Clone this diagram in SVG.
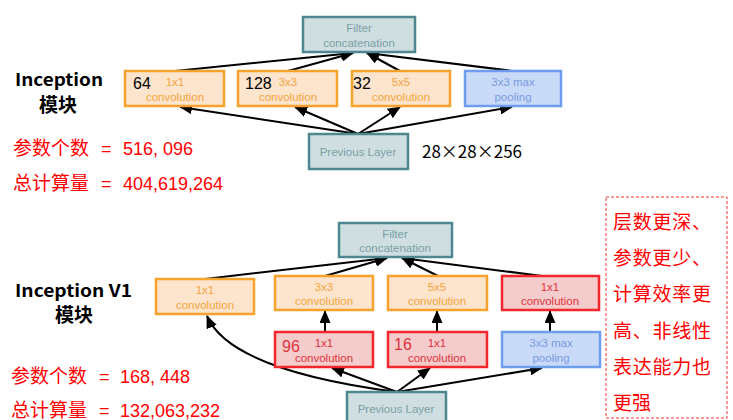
<svg xmlns="http://www.w3.org/2000/svg" width="733" height="420" viewBox="0 0 733 420">
<defs>
<marker id="ah" markerUnits="userSpaceOnUse" markerWidth="13" markerHeight="11" refX="12" refY="5.5" orient="auto">
<path d="M0,0 L13,5.5 L0,11 z" fill="#000"/>
</marker>
<style>
.conn line, .conn path { stroke:#000; stroke-width:2; fill:none; marker-end:url(#ah); }
.gray rect { fill:#cfdfe1; stroke:#4e8790; stroke-width:2.5; }
.gray text { fill:#7b9ea5; }
.org rect { fill:#fde4cc; stroke:#f7a22c; stroke-width:2.5; }
.org text { fill:#f5a540; }
.blue rect { fill:#c9daf8; stroke:#6d9eeb; stroke-width:2.5; }
.blue text { fill:#7a9be2; }
.red rect { fill:#f4cccc; stroke:#f2262b; stroke-width:2.5; }
.red text { fill:#e0323a; }
.lbl { font-family:"Liberation Sans", Arial, sans-serif; font-size:11.5px; text-anchor:middle; }
.num { font-family:"Liberation Sans", Arial, sans-serif; font-size:16px; }
.cjk { font-family:"Noto Sans CJK SC", sans-serif; }
.rt { font-family:"Noto Sans CJK SC", sans-serif; font-size:19px; fill:#ff0000; }
.rn { font-family:"Liberation Sans", Arial, sans-serif; font-size:18px; fill:#ff0000; }
.bt { font-family:"Noto Sans CJK SC", sans-serif; font-weight:bold; fill:#000; }
</style>
</defs>

<!-- left labels -->
<text class="bt" x="15" y="86" font-size="17" textLength="88" lengthAdjust="spacingAndGlyphs">Inception</text>
<text class="bt" x="58" y="112" font-size="19" text-anchor="middle">模块</text>
<text class="rt" x="13" y="155">参数个数</text>
<text class="rn" x="101" y="155">=</text>
<text class="rn" x="123" y="155">516, 096</text>
<text class="rt" x="13" y="190">总计算量</text>
<text class="rn" x="101" y="190">=</text>
<text class="rn" x="123" y="190">404,619,264</text>

<text class="bt" x="15" y="297" font-size="17" textLength="117" lengthAdjust="spacingAndGlyphs">Inception V1</text>
<text class="bt" x="74" y="322" font-size="19" text-anchor="middle">模块</text>
<text class="rt" x="11" y="383">参数个数</text>
<text class="rn" x="99" y="383">=</text>
<text class="rn" x="120" y="383">168, 448</text>
<text class="rt" x="11" y="417">总计算量</text>
<text class="rn" x="99" y="417">=</text>
<text class="rn" x="120" y="417">132,063,232</text>

<text class="cjk" x="422" y="158" font-size="17" fill="#000">28×28×256</text>

<!-- connectors -->
<g class="conn" id="connectors">
<line x1="175" y1="71" x2="353" y2="53"/>
<line x1="288" y1="71" x2="353" y2="53"/>
<line x1="400" y1="71" x2="367" y2="53"/>
<line x1="513" y1="71" x2="367" y2="53"/>
<line x1="358" y1="134" x2="180" y2="107"/>
<line x1="358" y1="134" x2="295" y2="107"/>
<line x1="358" y1="134" x2="400" y2="107"/>
<line x1="358" y1="134" x2="512" y2="107"/>

<line x1="205" y1="279" x2="387" y2="258"/>
<line x1="325" y1="276" x2="387" y2="258"/>
<line x1="438" y1="276" x2="402" y2="258"/>
<line x1="542" y1="276" x2="402" y2="258"/>
<line x1="325" y1="332" x2="325" y2="311"/>
<line x1="437" y1="332" x2="437" y2="311"/>
<line x1="550" y1="332" x2="550" y2="311"/>
<line x1="397" y1="392" x2="332" y2="368"/>
<line x1="397" y1="392" x2="430" y2="368"/>
<line x1="397" y1="392" x2="542" y2="368"/>
<path d="M397,392 Q230,370 207,316"/>
</g>

<!-- top module -->
<g id="top-concat" class="gray">
<rect x="303" y="17" width="112" height="35"/>
<text class="lbl" x="359" y="32">Filter</text>
<text class="lbl" x="359" y="47">concatenation</text>
</g>
<g id="top-conv1" class="org">
<rect x="125" y="71" width="99" height="35"/>
<text class="lbl" x="175" y="86">1x1</text>
<text class="lbl" x="175" y="101">convolution</text>
<text class="num" x="133" y="89" style="fill:#000">64</text>
</g>
<g id="top-conv3" class="org">
<rect x="238" y="71" width="99" height="35"/>
<text class="lbl" x="288" y="86">3x3</text>
<text class="lbl" x="288" y="101">convolution</text>
<text class="num" x="245" y="89" style="fill:#000">128</text>
</g>
<g id="top-conv5" class="org">
<rect x="352" y="71" width="98" height="35"/>
<text class="lbl" x="401" y="86">5x5</text>
<text class="lbl" x="401" y="101">convolution</text>
<text class="num" x="353" y="89" style="fill:#000">32</text>
</g>
<g id="top-pool" class="blue">
<rect x="465" y="71" width="96" height="35"/>
<text class="lbl" x="513" y="86">3x3 max</text>
<text class="lbl" x="513" y="101">pooling</text>
</g>
<g id="top-prev" class="gray">
<rect x="309" y="134" width="99" height="35"/>
<text class="lbl" x="358" y="156">Previous Layer</text>
</g>

<!-- bottom module -->
<g id="bot-concat" class="gray">
<rect x="339" y="223" width="113" height="34"/>
<text class="lbl" x="395" y="238">Filter</text>
<text class="lbl" x="395" y="252">concatenation</text>
</g>
<g id="bot-conv1" class="org">
<rect x="156" y="279" width="98" height="35"/>
<text class="lbl" x="205" y="294">1x1</text>
<text class="lbl" x="205" y="309">convolution</text>
</g>
<g id="bot-conv3" class="org">
<rect x="275" y="276" width="98" height="34"/>
<text class="lbl" x="324" y="291">3x3</text>
<text class="lbl" x="324" y="305">convolution</text>
</g>
<g id="bot-conv5" class="org">
<rect x="388" y="276" width="99" height="34"/>
<text class="lbl" x="437" y="291">5x5</text>
<text class="lbl" x="437" y="305">convolution</text>
</g>
<g id="bot-poolproj" class="red">
<rect x="502" y="276" width="97" height="34"/>
<text class="lbl" x="550" y="291">1x1</text>
<text class="lbl" x="550" y="305">convolution</text>
</g>
<g id="bot-reduce3" class="red">
<rect x="275" y="332" width="98" height="35"/>
<text class="lbl" x="324" y="347">1x1</text>
<text class="lbl" x="324" y="362">convolution</text>
<text class="num" x="282" y="352">96</text>
</g>
<g id="bot-reduce5" class="red">
<rect x="388" y="332" width="99" height="35"/>
<text class="lbl" x="437" y="347">1x1</text>
<text class="lbl" x="437" y="362">convolution</text>
<text class="num" x="394" y="350">16</text>
</g>
<g id="bot-pool" class="blue">
<rect x="502" y="332" width="98" height="35"/>
<text class="lbl" x="551" y="347">3x3 max</text>
<text class="lbl" x="551" y="362">pooling</text>
</g>
<g id="bot-prev" class="gray">
<rect x="347" y="392" width="99" height="35"/>
<text class="lbl" x="396" y="413">Previous Layer</text>
</g>

<!-- note -->
<g id="note">
<rect x="606" y="197" width="121" height="221" fill="none" stroke="#ff3030" stroke-width="1" stroke-dasharray="3,2"/>
<text class="rt" x="613" y="229" textLength="98">层数更深、</text>
<text class="rt" x="613" y="265" textLength="98">参数更少、</text>
<text class="rt" x="613" y="301" textLength="98">计算效率更</text>
<text class="rt" x="613" y="338" textLength="98">高、非线性</text>
<text class="rt" x="613" y="374" textLength="98">表达能力也</text>
<text class="rt" x="613" y="410">更强</text>
</g>
</svg>
